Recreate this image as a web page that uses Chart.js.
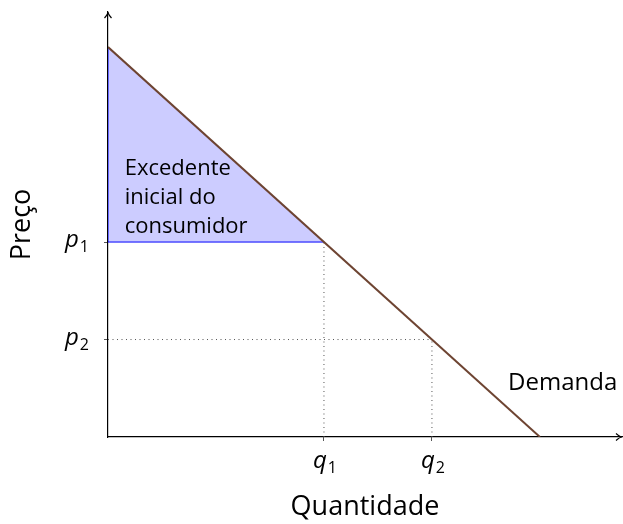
<!DOCTYPE html>
<html>
<head>
<meta charset="utf-8">
<script src="https://cdn.jsdelivr.net/npm/chart.js@4"></script>
<style>
  html, body { margin: 0; padding: 0; background: #fff; }
  #wrap { width: 623px; height: 524px; }
</style>
</head>
<body>
<div id="wrap"><canvas id="chart"></canvas></div>
<script>
// demand curve p = 8 - q
const demandQ = [0, 8];
const demandP = [8, 0];
// quantities and prices marked on the axes
const qTicks = [4, 6];
const qLabels = ["q", "q"];
const qSubs = ["1", "2"];
const pTicks = [4, 2];
const pLabels = ["p", "p"];
const pSubs = ["1", "2"];
// consumer surplus triangle
const surplusQ = [0, 4, 0, 0];
const surplusP = [8, 4, 4, 8];
const surplusText = ["Excedente", "inicial do", "consumidor"];
const demandText = "Demanda";
const xTitle = "Quantidade";
const yTitle = "Preço";
const xMax = 9.52;
const yMax = 8.72;

const FONT = "'Open Sans'";

function pts(xs, ys) {
    return xs.map((x, i) => ({ x, y: ys[i] }));
}

// guide lines from the axes to the curve
const guides = [
    pts([4, 4], [0, 4]),
    pts([6, 6], [0, 2]),
    pts([0, 6], [2, 2])
];

function drawSub(ctx, main, sub, x0, base) {
    ctx.font = "italic 24px " + FONT;
    ctx.fillText(main, x0, base);
    const w1 = ctx.measureText(main).width;
    ctx.font = "16px " + FONT;
    ctx.fillText(sub, x0 + w1 + 1, base + 5);
}

function subWidth(ctx, main, sub) {
    ctx.font = "italic 24px " + FONT;
    const w1 = ctx.measureText(main).width;
    ctx.font = "16px " + FONT;
    return w1 + 1 + ctx.measureText(sub).width;
}

const annotations = {
    id: "annotations",
    afterDraw(c) {
        const ctx = c.ctx;
        const xs = c.scales.x, ys = c.scales.y;
        const area = c.chartArea;
        ctx.save();
        // arrow heads on the axes
        ctx.strokeStyle = "#000";
        ctx.lineWidth = 1.2;
        const tx = area.left, ty = area.top;
        ctx.beginPath();
        ctx.moveTo(tx - 3.5, ty + 6);
        ctx.quadraticCurveTo(tx, ty + 2, tx, ty);
        ctx.quadraticCurveTo(tx, ty + 2, tx + 3.5, ty + 6);
        ctx.stroke();
        const rx = area.right, ry = area.bottom;
        ctx.beginPath();
        ctx.moveTo(rx - 6, ry - 3.5);
        ctx.quadraticCurveTo(rx - 2, ry, rx, ry);
        ctx.quadraticCurveTo(rx - 2, ry, rx - 6, ry + 3.5);
        ctx.stroke();

        // tick labels with subscripts
        ctx.fillStyle = "#000";
        ctx.textBaseline = "alphabetic";
        ctx.textAlign = "left";
        qTicks.forEach((v, i) => {
            const x = xs.getPixelForValue(v);
            const w = subWidth(ctx, qLabels[i], qSubs[i]);
            drawSub(ctx, qLabels[i], qSubs[i], x - w / 2 + 1, area.bottom + 31);
        });
        pTicks.forEach((v, i) => {
            const y = ys.getPixelForValue(v);
            const w = subWidth(ctx, pLabels[i], pSubs[i]);
            drawSub(ctx, pLabels[i], pSubs[i], area.left - 19 - w, y + 5);
        });

        // text inside the plot
        ctx.font = "22px " + FONT;
        const lx = xs.getPixelForValue(0.31);
        surplusText.forEach((t, i) => {
            ctx.fillText(t, lx, ys.getPixelForValue(5.37 - i * 0.59));
        });
        ctx.font = "24px " + FONT;
        ctx.fillText(demandText, xs.getPixelForValue(7.41), ys.getPixelForValue(0.97));
        ctx.restore();
    }
};

new Chart(document.getElementById("chart"), {
    type: "line",
    data: {
        datasets: [
            {
                data: pts(demandQ, demandP),
                borderColor: "#6e4432",
                borderWidth: 2,
                pointRadius: 0,
                fill: false,
                order: 0
            },
            {
                data: pts(surplusQ, surplusP),
                borderColor: "#0000ff",
                borderWidth: 1,
                backgroundColor: "rgb(204,204,255)",
                fill: "shape",
                pointRadius: 0,
                tension: 0,
                order: 2
            },
            ...guides.map(g => ({
                data: g,
                borderColor: "#555",
                borderWidth: 1,
                borderDash: [1, 3.5],
                pointRadius: 0,
                fill: false,
                order: 1
            }))
        ]
    },
    options: {
        responsive: true,
        maintainAspectRatio: false,
        animation: false,
        events: [],
        layout: { padding: { top: 12, right: 1, left: 0, bottom: 0 } },
        plugins: { legend: { display: false }, tooltip: { enabled: false } },
        scales: {
            x: {
                type: "linear",
                min: 0,
                max: xMax,
                afterBuildTicks: s => { s.ticks = qTicks.map(v => ({ value: v })); },
                afterFit: s => { s.height = 87; },
                border: { color: "#000", width: 1.2 },
                grid: { drawOnChartArea: false, tickLength: 4, color: "#555" },
                ticks: { display: false },
                title: {
                    display: true,
                    text: xTitle,
                    color: "#000",
                    font: { family: FONT, size: 27 },
                    padding: { top: 0, bottom: 0 }
                }
            },
            y: {
                type: "linear",
                min: 0,
                max: yMax,
                afterBuildTicks: s => { s.ticks = pTicks.map(v => ({ value: v })); },
                afterFit: s => { s.width = 108; },
                border: { color: "#000", width: 1.2 },
                grid: { drawOnChartArea: false, tickLength: 4, color: "#555" },
                ticks: { display: false },
                title: {
                    display: true,
                    text: yTitle,
                    color: "#000",
                    font: { family: FONT, size: 27 },
                    padding: { top: 6, bottom: 0 }
                }
            }
        }
    },
    plugins: [annotations]
});
</script>
</body>
</html>
